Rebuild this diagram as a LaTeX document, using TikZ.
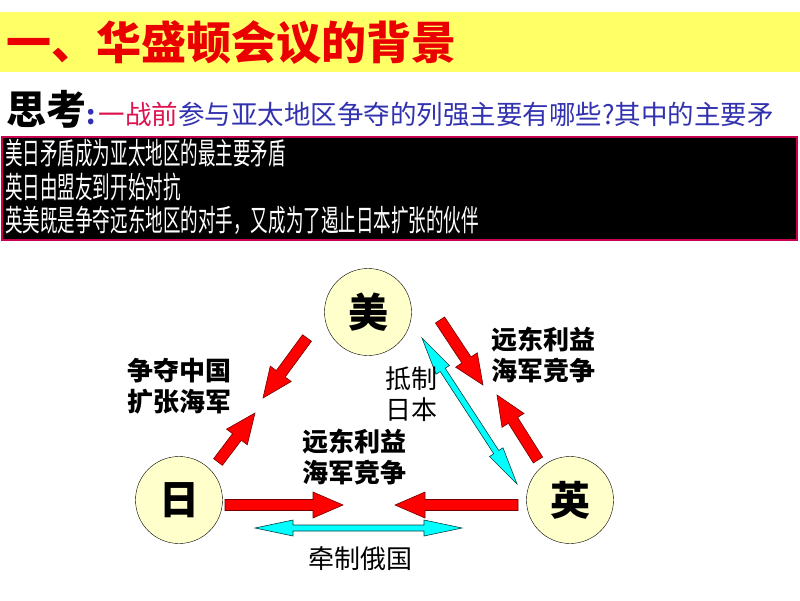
\documentclass[tikz,border=0pt]{standalone}
\usepackage{fontspec}
\setmainfont{Noto Sans CJK SC}
\newfontfamily\narrowcjk{Noto Sans CJK SC}[FakeStretch=0.585]
\usetikzlibrary{calc}

% fat block arrow: tail, tip
\newcommand{\redarrow}[2]{%
  \coordinate (hb) at ($(#2)!30pt!(#1)$);
  \filldraw[red arrow] ($(#1)!5.5pt!90:(#2)$) -- ($(hb)!5.5pt!90:(#2)$) -- ($(hb)!13pt!90:(#2)$) -- (#2)
    -- ($(hb)!13pt!-90:(#2)$) -- ($(hb)!5.5pt!-90:(#2)$) -- ($(#1)!5.5pt!-90:(#2)$) -- cycle;}
% slim double arrow: one tip, other tip
\newcommand{\cyanarrow}[2]{%
  \coordinate (ha) at ($(#1)!38pt!(#2)$);
  \coordinate (hb) at ($(#2)!38pt!(#1)$);
  \filldraw[cyan arrow] (#1) -- ($(ha)!8pt!90:(#2)$) -- ($(ha)!3pt!90:(#2)$) -- ($(hb)!3pt!90:(#2)$)
    -- ($(hb)!8pt!90:(#2)$) -- (#2) -- ($(hb)!8pt!-90:(#2)$) -- ($(hb)!3pt!-90:(#2)$)
    -- ($(ha)!3pt!-90:(#2)$) -- ($(ha)!8pt!-90:(#2)$) -- cycle;}

\begin{document}
\begin{tikzpicture}
		[x=1pt,y=-1pt,
		%Styles
		country/.style={circle,draw,fill=countryfill,minimum size=87pt,inner sep=0pt,
			font=\fontsize{40}{40}\selectfont\bfseries},
		red arrow/.style={fill=arrowred,draw=red!45!black,line width=0.6pt},
		cyan arrow/.style={fill=aqua,draw=teal!50!black,line width=0.6pt},
		bold label/.style={anchor=west,inner sep=0pt,align=left,font=\fontsize{26}{31}\selectfont\bfseries},
		plain label/.style={anchor=west,inner sep=0pt,align=left,font=\fontsize{26}{31}\selectfont},
		box line/.style={anchor=west,inner sep=0pt,text=white,font=\narrowcjk\fontsize{30}{30}\selectfont}
		]
		
		%Colors
		\definecolor{countryfill}{RGB}{255,255,204}
		\definecolor{titlebar}{RGB}{255,255,102}
		\definecolor{titlered}{RGB}{235,0,0}
		\definecolor{arrowred}{RGB}{255,0,0}
		\definecolor{aqua}{RGB}{0,255,255}
		\definecolor{qpink}{RGB}{220,20,80}
		\definecolor{qblue}{RGB}{50,50,175}
		\definecolor{boxborder}{RGB}{200,0,80}
		
		\useasboundingbox (0,0) rectangle (800,600);
		\fill[white] (0,0) rectangle (800,600);
		
		%Header
		\fill[titlebar] (0,12) rectangle (800,72);
		\node[anchor=west,inner sep=0pt,text=titlered,font=\fontsize{45}{45}\selectfont\bfseries] (title) at (6,43) {一、华盛顿会议的背景};
		\node[anchor=base west,inner sep=0pt] (question) at (6,124)
			{{\fontsize{40}{40}\selectfont\bfseries 思考}{\fontsize{26.5}{26.5}\selectfont\color{qblue}\textbf{:}\hspace{3pt}\color{qpink}一战前\color{qblue}参与亚太地区争夺的列强主要有哪些?其中的主要矛}};
		
		\filldraw[fill=black,draw=boxborder,line width=1.5pt] (2,137) rectangle (797,240);
		\node[box line] (line1) at (5,153) {美日矛盾成为亚太地区的最主要矛盾};
		\node[box line] (line2) at (5,187) {英日由盟友到开始对抗};
		\node[box line] (line3) at (5,220) {英美既是争夺远东地区的对手，又成为了遏止日本扩张的伙伴};
		
		%The graphic
		\node[country] (mei) at (368,312) {美};
		\node[country] (ri) at (179,500) {日};
		\node[country] (ying) at (570,500) {英};
		
		\coordinate (meiTail) at (307,338);
		\coordinate (meiTip) at (263,398);
		\coordinate (riTail) at (218,462);
		\coordinate (riTip) at (255,413);
		\coordinate (meiTailR) at (440,320);
		\coordinate (meiTipR) at (483,385);
		\coordinate (yingTail) at (538,460);
		\coordinate (yingTip) at (497,395);
		\coordinate (riTailB) at (225,505);
		\coordinate (riTipB) at (343,505);
		\coordinate (yingTailB) at (518,505);
		\coordinate (yingTipB) at (395,505);
		
		\redarrow{meiTail}{meiTip}
		\redarrow{riTail}{riTip}
		\redarrow{meiTailR}{meiTipR}
		\redarrow{yingTail}{yingTip}
		\redarrow{riTailB}{riTipB}
		\redarrow{yingTailB}{yingTipB}
		
		\coordinate (usEnd) at (422,338);
		\coordinate (ukEnd) at (517,484);
		\coordinate (jpEnd) at (255,528);
		\coordinate (ukEndB) at (462,528);
		\cyanarrow{usEnd}{ukEnd}
		\cyanarrow{jpEnd}{ukEndB}
		
		%Labels
		\node[bold label] (china) at (127,386) {争夺中国\\扩张海军};
		\node[plain label] (resist) at (385,394) {抵制\\日本};
		\node[bold label] (farEastR) at (491,355) {远东利益\\海军竞争};
		\node[bold label] (farEastB) at (302,457) {远东利益\\海军竞争};
		\node[plain label] (russia) at (308,559) {牵制俄国};
		
	\end{tikzpicture}
\end{document}
